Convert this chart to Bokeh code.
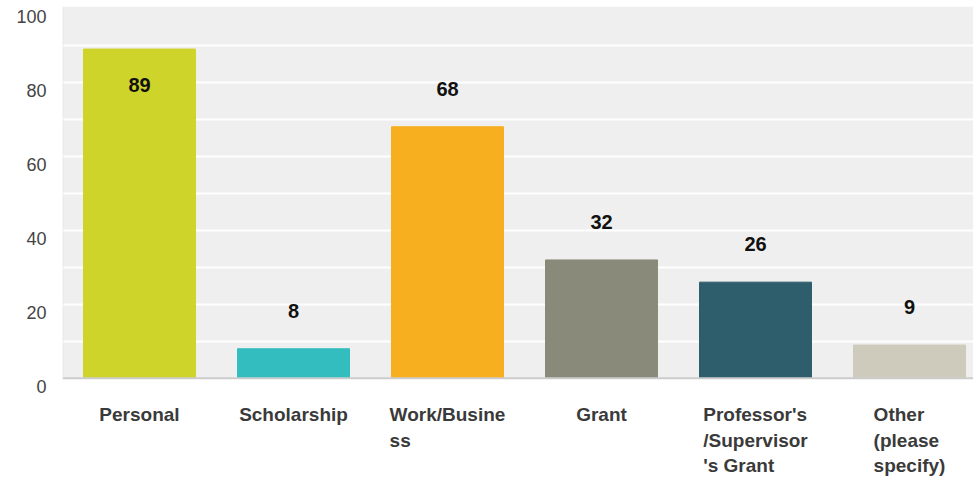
from bokeh.plotting import figure
from bokeh.models import (ColumnDataSource, Range1d, LinearAxis, FixedTicker,
                          Span, BoxAnnotation)
from bokeh.core.properties import value
from bokeh.embed import file_html
from bokeh.resources import INLINE

categories = ["Personal", "Scholarship", "Work/Busine\nss", "Grant",
              "Professor's\n/Supervisor\n's Grant", "Other\n(please\nspecify)"]
values = [89, 8, 68, 32, 26, 9]
colors = ["#cfd42a", "#33bdbf", "#f7ae1f", "#8a8a7a", "#2e5e6b", "#cecbbc"]
y_ticks = [0, 20, 40, 60, 80, 100]
grid_ticks = [10, 20, 30, 40, 50, 60, 70, 80, 90]

xs = [i + 0.5 for i in range(len(categories))]
label_offset = [36 if v > 85 else -38 for v in values]

src = ColumnDataSource(dict(x=xs, top=values, color=colors,
                            label=[str(v) for v in values], yoff=label_offset,
                            cat=categories, base=[0] * len(values)))

PX_PER_UNIT = 3.7
Y1 = 100.5
Y0 = Y1 - 475 / PX_PER_UNIT
p = figure(width=973, height=481, output_backend="svg", toolbar_location=None,
           x_range=Range1d(0, 911 / 154), y_range=Range1d(Y0, Y1),
           min_border_left=62, min_border_right=0, min_border_top=6,
           min_border_bottom=0)
p.background_fill_color = "white"
p.border_fill_color = "white"
p.outline_line_color = None

# grey plotting area from the baseline up
p.add_layout(BoxAnnotation(bottom=0, fill_color="#efefef", fill_alpha=1,
                           line_color=None, level="image"))

p.vbar(x="x", top="top", width=0.727, bottom=0, color="color", source=src)

p.text(x="x", y="top", text="label", y_offset="yoff", source=src,
       text_align="center", text_baseline="middle",
       text_font=value("Liberation Sans"), text_font_style="bold",
       text_font_size="20px", text_color="#111111")

# category labels: block centred under the bar, lines left-aligned
p.text(x="x", y="base", text="cat", source=src, y_offset=26,
       anchor="top_center", text_align="left", text_baseline="top",
       text_font=value("Liberation Sans"), text_font_style="bold",
       text_font_size="19px", text_color="#3a3a3a", text_line_height=1.2)

# grid
p.xgrid.visible = False
p.ygrid.ticker = FixedTicker(ticks=grid_ticks)
p.ygrid.grid_line_color = "white"
p.ygrid.grid_line_width = 2

# y axis: labels sit a little below their gridline
p.yaxis.visible = False
p.xaxis.visible = False
shift = 2.2
p.extra_y_ranges = {"lab": Range1d(Y0 + shift, Y1 + shift)}
yax = LinearAxis(y_range_name="lab", ticker=FixedTicker(ticks=y_ticks))
yax.axis_line_color = None
yax.major_tick_line_color = None
yax.minor_tick_line_color = None
yax.major_tick_out = 0
yax.major_label_standoff = 16
yax.major_label_text_font = "Liberation Sans"
yax.major_label_text_font_size = "18px"
yax.major_label_text_color = "#444444"
p.add_layout(yax, "left")

# baseline and left border
p.add_layout(Span(location=0, dimension="width", line_color="#cccccc",
                  line_width=2))
p.add_layout(BoxAnnotation(left=0, right=0, bottom=0, fill_alpha=0,
                           line_color="#dddddd", line_width=3))

open("out.html", "w").write(file_html(p, INLINE))
